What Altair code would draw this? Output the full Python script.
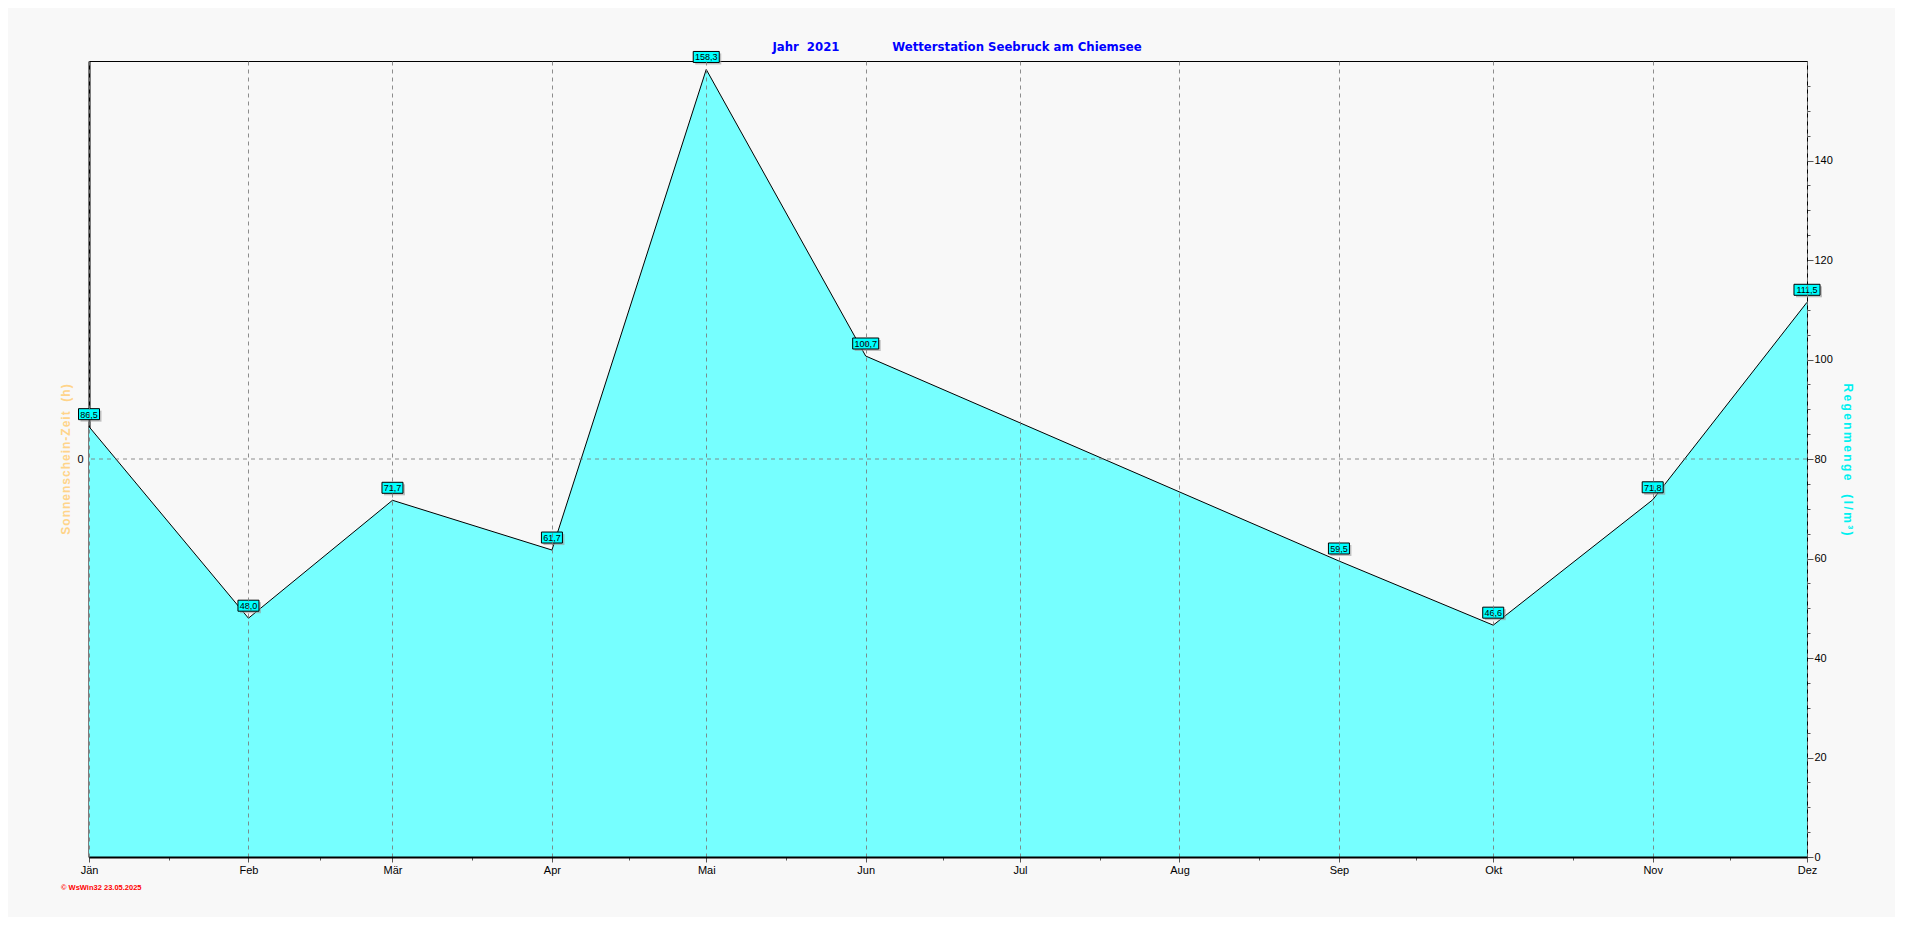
import altair as alt
import pandas as pd

year = 2021
months_de = ["Jän", "Feb", "Mär", "Apr", "Mai", "Jun", "Jul", "Aug", "Sep", "Okt", "Nov", "Dez"]
rain_months = [1, 2, 3, 4, 5, 6, 9, 10, 11, 12]
rain_values = [86.5, 48.0, 71.7, 61.7, 158.3, 100.7, 59.5, 46.6, 71.8, 111.5]
rain_labels = ["86,5", "48,0", "71,7", "61,7", "158,3", "100,7", "59,5", "46,6", "71,8", "111,5"]
sun_ref = [0]
footer_text = ["\u00a9 WsWin32  23.05.2025"]
title_left = "Jahr  2021"
title_right = "Wetterstation Seebruck am Chiemsee"

df = pd.DataFrame({
    "date": [f"{year}-{m:02d}-01T00:00:00" for m in rain_months],
    "rain": rain_values,
    "label": rain_labels,
})
sun_df = pd.DataFrame({"sun": sun_ref})
foot_df = pd.DataFrame({"t": footer_text})

# x axis tick values: month starts plus quarter-month minor ticks
xvals = []
for m in range(1, 13):
    xvals.append(alt.DateTime(year=year, month=m, date=1))
    if m < 12:
        ndays = (pd.Timestamp(year, m + 1, 1) - pd.Timestamp(year, m, 1)).days
        for k in (1, 2, 3):
            h = k * ndays * 24 / 4
            xvals.append(alt.DateTime(year=year, month=m, date=1 + int(h // 24), hours=int(h % 24)))

major_x = "date(datum.value) == 1 && hours(datum.value) == 0"
month_arr = "[" + ",".join(f"'{m}'" for m in months_de) + "]"

FONT = "Liberation Sans, Arial, sans-serif"
NARROW = "Liberation Sans Narrow, DejaVu Sans Condensed, Arial Narrow, sans-serif"


def spaced(s, sep="\u2009"):
    return sep.join("\u00a0" if c == " " else c for c in s)


x_scale = alt.Scale(domain=[alt.DateTime(year=year, month=1, date=1),
                            alt.DateTime(year=year, month=12, date=1)])

x_enc = alt.X(
    "date:T",
    scale=x_scale,
    axis=alt.Axis(
        title=None,
        values=xvals,
        labelExpr=f"({major_x}) ? {month_arr}[month(datum.value)] : ''",
        labelOverlap=False,
        labelFlush=False,
        labelFont=FONT,
        labelFontSize=11,
        labelColor="black",
        labelPadding=2,
        tickColor="#555555",
        tickSize={"condition": {"test": major_x, "value": 5}, "value": 3},
        grid=True,
        gridColor="#7a7a7a",
        gridDash=[4, 4],
        gridOpacity={"condition": {"test": major_x, "value": 0.85}, "value": 0},
        domainColor="black",
        domainWidth=2,
        zindex=1,
    ),
)

y_scale = alt.Scale(domain=[0, 160], nice=False, zero=True)

area = alt.Chart(df).mark_area(
    color="#76FFFF", opacity=1,
    line={"color": "black", "strokeWidth": 1},
).encode(
    x=x_enc,
    y=alt.Y(
        "rain:Q",
        scale=y_scale,
        axis=alt.Axis(
            orient="right",
            values=list(range(0, 160, 5)),
            labelExpr="datum.value % 20 == 0 ? datum.value : ''",
            tickSize={"condition": {"test": "datum.value % 20 == 0", "value": 6}, "value": 3},
            tickColor="#555555",
            labelFont=FONT,
            labelFontSize=11,
            labelColor="black",
            labelPadding=1,
            labelOverlap=False,
            labelFlush=False,
            grid=False,
            domainColor="black",
            domainWidth=1,
            title=spaced("Regenmenge  (l/m³)"),
            titleColor="#00F0F0",
            titleFont=FONT,
            titleFontSize=12,
            titleFontWeight="bold",
            titlePadding=8,
        ),
    ),
)

sun_rule = alt.Chart(sun_df).mark_rule(
    color="#7a7a7a", strokeDash=[4, 4], strokeWidth=1, opacity=0.85
).encode(
    y=alt.Y(
        "sun:Q",
        scale=alt.Scale(domain=[-1, 1], nice=False),
        axis=alt.Axis(
            orient="left",
            values=[0],
            ticks=False,
            grid=False,
            labelFont=FONT,
            labelFontSize=11,
            labelColor="black",
            labelPadding=6,
            domainColor="black",
            domainWidth=2,
            title=spaced("Sonnenschein-Zeit  (h)", "\u200a"),
            titleColor="#FFD48A",
            titleFont=FONT,
            titleFontSize=12,
            titleFontWeight="bold",
            titlePadding=4,
        ),
    ),
)

short_box = "M-1,-0.524L1,-0.524L1,0.524L-1,0.524Z"
long_box = "M-1.24,-0.524L1.24,-0.524L1.24,0.524L-1.24,0.524Z"
box_shape = alt.condition("length(datum.label) > 4", alt.value(long_box), alt.value(short_box))
y_lab = alt.Y("rain:Q", scale=y_scale, axis=None)
x_lab = alt.X("date:T", scale=x_scale)

shadow = alt.Chart(df).mark_point(
    filled=True, fill="#9a9a9a", fillOpacity=0.6, strokeWidth=0, size=441,
    xOffset=2, yOffset=-10.5,
).encode(x=x_lab, y=y_lab, shape=box_shape)

box = alt.Chart(df).mark_point(
    filled=True, fill="#00FFFF", fillOpacity=1, stroke="black", strokeWidth=1,
    strokeOpacity=1, size=441, yOffset=-12.5,
).encode(x=x_lab, y=y_lab, shape=box_shape)

text = alt.Chart(df).mark_text(
    font=FONT, fontSize=9, color="black", baseline="middle", align="center", yOffset=-12,
).encode(x=x_lab, y=y_lab, text="label:N")

footer = alt.Chart(foot_df).mark_text(
    font=FONT, fontSize=7.5, fontWeight="bold", color="#FF0000", align="left", baseline="middle",
).encode(x=alt.value(-28), y=alt.value(827), text="t:N")

title_text = title_left.replace(" ", "\u00a0") + "\u00a0" * 13 + title_right

chart = alt.layer(area, sun_rule, shadow, box, text, footer).resolve_scale(
    y="independent"
).properties(
    width=1718,
    height=796,
    autosize=alt.AutoSizeParams(type="none"),
    padding={"left": 81, "top": 53, "right": 88, "bottom": 60},
    background="#F8F8F8",
    title=alt.Title(
        title_text, frame="group", anchor="middle", offset=-5, dx=9, color="#0000FF",
        font=NARROW, fontSize=13, fontWeight="bold",
    ),
).configure_view(stroke="black", strokeWidth=1)

chart.save("out.html", embed_options={"renderer": "svg", "actions": False})
